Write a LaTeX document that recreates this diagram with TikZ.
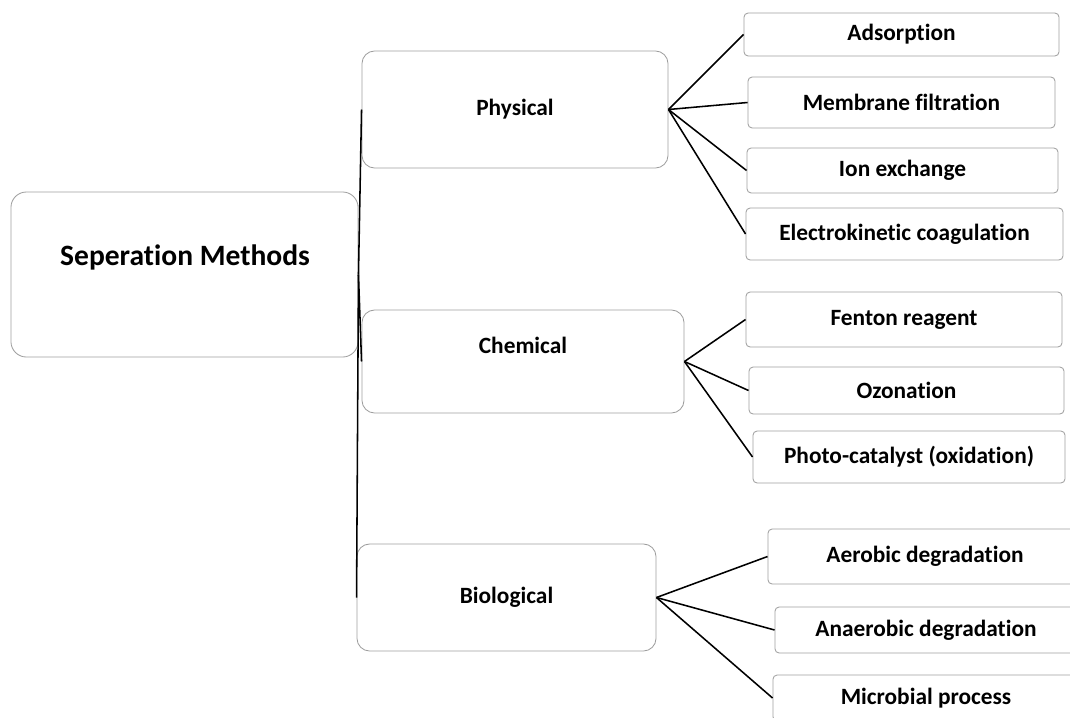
\documentclass[tikz,border=0pt]{standalone}
\usepackage{fontspec}
\setmainfont{Carlito}[Ligatures=NoCommon]
\usepackage{tikz}
\usetikzlibrary{positioning}

\begin{document}
\begin{tikzpicture}[x=0.025cm,y=-0.025cm,
	box/.style={draw=gray!75,line width=0.6pt,rounded corners=3pt,inner sep=0pt,font=\bfseries\fontsize{16.6}{18}\selectfont},
	catbox/.style={box,rounded corners=9pt},
	txt/.style={inner sep=0pt,font=\bfseries\fontsize{16.6}{18}\selectfont},
	link/.style={black,line width=1.1pt}]
	\useasboundingbox (0,0) rectangle (1070,717);
	\clip (0,0) rectangle (1070,717);
	\node[catbox,rounded corners=11pt,minimum width=8.675cm,minimum height=4.125cm] (methods) at (184.5,274.5) {};
	\node[txt,font=\bfseries\fontsize{21}{24}\selectfont] (methodstxt) at (185,257) {Seperation Methods};
	\node[catbox,minimum width=7.65cm,minimum height=2.925cm] (physical) at (515,109.5) {Physical};
	\node[catbox,minimum width=8.05cm,minimum height=2.575cm] (chemical) at (523,361.5) {};
	\node[txt] (chemicaltxt) at (523,345) {Chemical};
	\node[catbox,minimum width=7.475cm,minimum height=2.675cm] (biological) at (506.5,597.5) {Biological};

	\node[box,minimum width=7.875cm,minimum height=1.075cm] (adsorption) at (901.5,34.5) {Adsorption};
	\node[box,minimum width=7.675cm,minimum height=1.275cm] (membrane) at (901.5,102.5) {Membrane filtration};
	\node[box,minimum width=7.775cm,minimum height=1.125cm] (ionex) at (902.5,170.5) {Ion exchange};
	\node[box,minimum width=7.925cm,minimum height=1.3cm] (electro) at (904.5,234) {Electrokinetic coagulation};

	\node[box,minimum width=7.9cm,minimum height=1.375cm] (fenton) at (904,319.5) {Fenton reagent};
	\node[box,minimum width=7.875cm,minimum height=1.175cm] (ozonation) at (906.5,390.5) {Ozonation};
	\node[box,minimum width=7.8cm,minimum height=1.3cm] (photo) at (909,457) {Photo-catalyst (oxidation)};

	\node[box,minimum width=7.85cm,minimum height=1.375cm] (aerobic) at (925,556.5) {Aerobic degradation};
	\node[box,minimum width=7.55cm,minimum height=1.15cm] (anaerobic) at (926,630) {Anaerobic degradation};
	\node[box,minimum width=7.65cm,minimum height=1.15cm] (microbial) at (926,698) {Microbial process};

	\draw[link] (methods.east) -- (physical.west);
	\draw[link] (methods.east) -- (chemical.west);
	\draw[link] (methods.east) -- (biological.west);

	\draw[link] (physical.east) -- (adsorption.west);
	\draw[link] (physical.east) -- (membrane.west);
	\draw[link] (physical.east) -- (ionex.west);
	\draw[link] (physical.east) -- (electro.west);

	\draw[link] (chemical.east) -- (fenton.west);
	\draw[link] (chemical.east) -- (ozonation.west);
	\draw[link] (chemical.east) -- (photo.west);

	\draw[link] (biological.east) -- (aerobic.west);
	\draw[link] (biological.east) -- (anaerobic.west);
	\draw[link] (biological.east) -- (microbial.west);
\end{tikzpicture}
\end{document}
